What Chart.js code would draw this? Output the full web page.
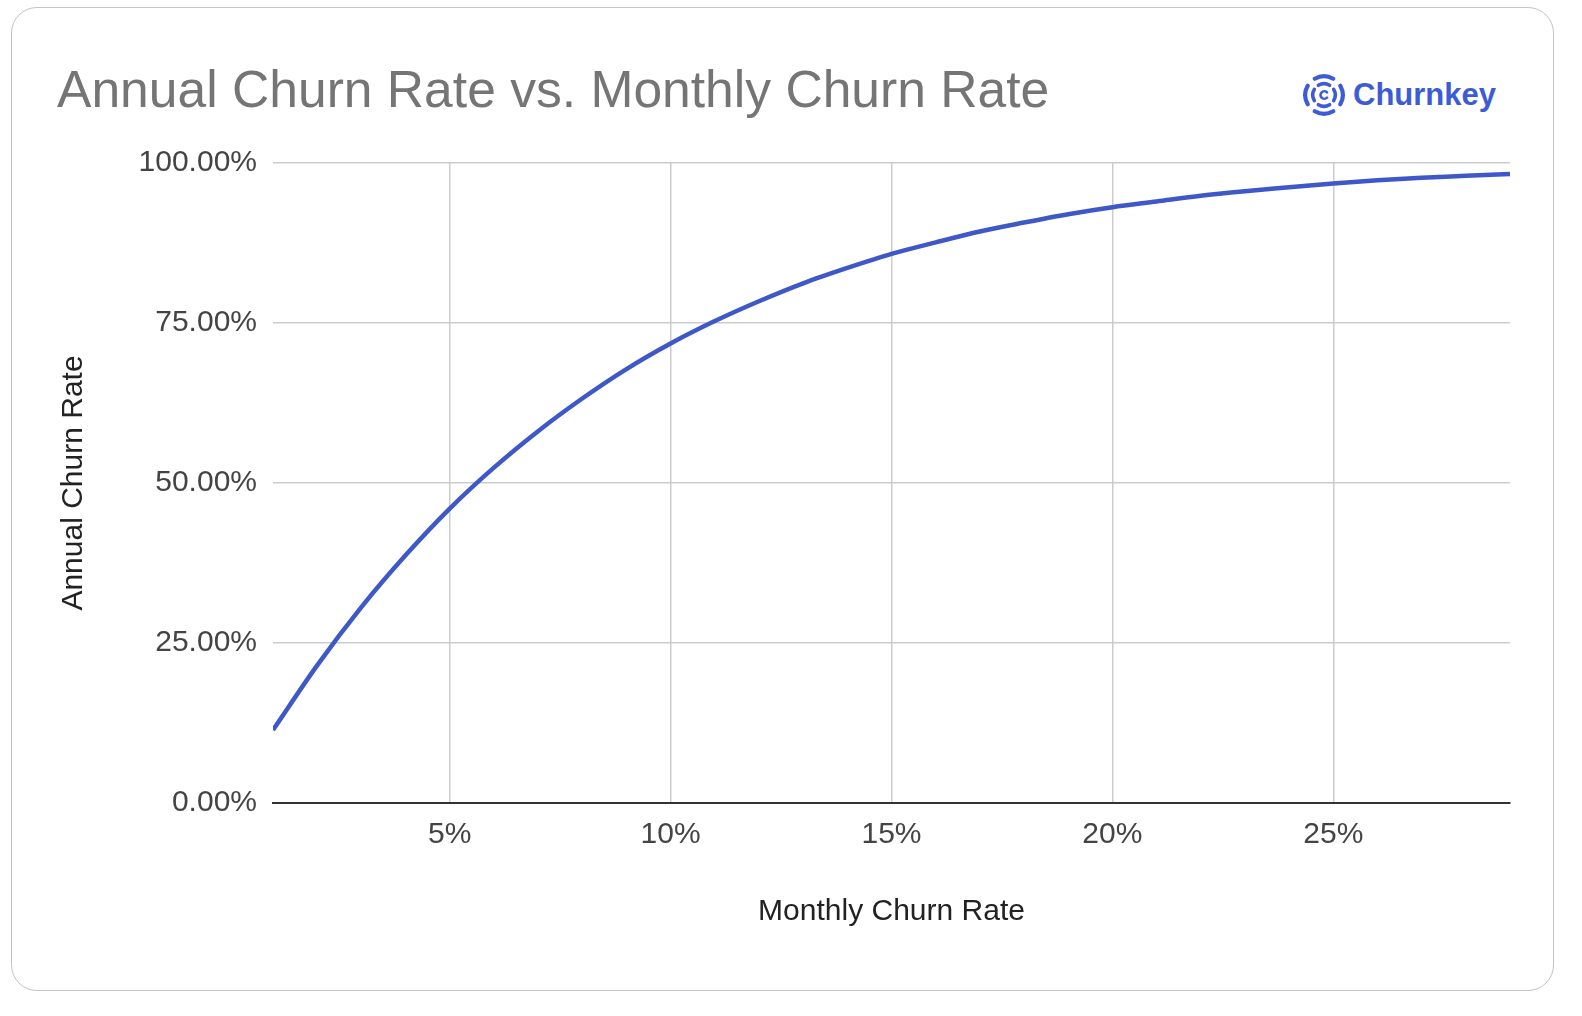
<!DOCTYPE html>
<html>
<head>
<meta charset="utf-8">
<script src="https://cdn.jsdelivr.net/npm/chart.js@4"></script>
<style>
  html, body { margin: 0; padding: 0; background: #fff; }
  body { width: 1582px; height: 1016px; position: relative; overflow: hidden; font-family: "Liberation Sans", Arial, sans-serif; }
  .card { position: absolute; left: 11px; top: 7px; width: 1543px; height: 984px; border: 1.5px solid #c4c4c4; border-radius: 26px; box-sizing: border-box; }
  .title { position: absolute; left: 57px; top: 59px; font-size: 51.6px; color: #757575; white-space: nowrap; }
  .logo { position: absolute; left: 1302px; top: 73px; display: flex; align-items: center; }
  .logo span { font-size: 31px; font-weight: bold; color: #3d5bd6; margin-left: 7px; }
  canvas { position: absolute; left: 0; top: 0; }
</style>
</head>
<body>
<div class="card"></div>
<div class="title">Annual Churn Rate vs. Monthly Churn Rate</div>
<div class="logo">
  <svg width="44" height="44" viewBox="0 0 44 44" fill="none" stroke="#3d5bd6" stroke-linecap="round">
    <!-- два кольца по четыре дуги, разрывы по диагоналям -->
    <g stroke-width="4.2">
      <path d="M 12.8 5.7 A 18.5 18.5 0 0 1 31.2 5.7"/>
      <path d="M 38.3 12.8 A 18.5 18.5 0 0 1 38.3 31.2"/>
      <path d="M 31.2 38.3 A 18.5 18.5 0 0 1 12.8 38.3"/>
      <path d="M 5.7 31.2 A 18.5 18.5 0 0 1 5.7 12.8"/>
    </g>
    <g stroke-width="3.6">
      <path d="M 16.4 12.3 A 11 11 0 0 1 27.6 12.3"/>
      <path d="M 31.7 16.4 A 11 11 0 0 1 31.7 27.6"/>
      <path d="M 27.6 31.7 A 11 11 0 0 1 16.4 31.7"/>
      <path d="M 12.3 27.6 A 11 11 0 0 1 12.3 16.4"/>
    </g>
    <path d="M 25 19.3 A 3.8 3.8 0 1 0 25 24.7" stroke-width="2.6"/>
  </svg>
  <span>Churnkey</span>
</div>
<canvas id="chart" width="1582" height="1016"></canvas>
<script>
// месячный отток, %
const monthlyRates = [1, 2, 3, 4, 5, 6, 7, 8, 9, 10, 11, 12, 13, 14, 15,
  16, 17, 18, 19, 20, 21, 22, 23, 24, 25, 26, 27, 28, 29];
// годовой отток, %
const annualRates = [11.4, 21.5, 30.6, 38.7, 46.0, 52.4, 58.1, 63.2, 67.8, 71.8,
  75.3, 78.4, 81.2, 83.6, 85.8, 87.6, 89.3, 90.7, 92.0, 93.1,
  94.0, 94.9, 95.6, 96.2, 96.8, 97.3, 97.7, 98.0, 98.3];
const yTicks = [0, 25, 50, 75, 100];
const xTicks = [5, 10, 15, 20, 25];

const points = monthlyRates.map((m, i) => ({ x: m, y: annualRates[i] }));
const tickFont = { family: 'Liberation Sans', size: 30 };

new Chart(document.getElementById('chart').getContext('2d'), {
  type: 'line',
  data: {
    datasets: [{
      data: points,
      borderColor: '#3f58c8',
      borderWidth: 4.5,
      pointRadius: 0,
      cubicInterpolationMode: 'monotone',
      fill: false,
    }],
  },
  options: {
    responsive: false,
    animation: false,
    layout: { padding: { left: 56, top: 163, right: 72, bottom: 86 } },
    plugins: { legend: { display: false }, tooltip: { enabled: false } },
    scales: {
      x: {
        type: 'linear',
        min: 1,
        max: 29,
        afterBuildTicks: (s) => { s.ticks = xTicks.map((v) => ({ value: v })); },
        afterFit: (s) => { s.height = 127; },
        ticks: {
          font: tickFont,
          color: '#444',
          padding: 14,
          callback: (v) => v + '%',
        },
        grid: { color: '#cccccc', lineWidth: 1.5, drawTicks: false },
        border: { display: true, color: '#333', width: 2 },
        title: {
          display: true,
          text: 'Monthly Churn Rate',
          font: tickFont,
          color: '#222',
          padding: 0,
        },
      },
      y: {
        min: 0,
        max: 100,
        afterBuildTicks: (s) => { s.ticks = yTicks.map((v) => ({ value: v })); },
        afterFit: (s) => { s.width = 217; },
        ticks: {
          font: tickFont,
          color: '#444',
          padding: 16,
          callback: (v) => v.toFixed(2) + '%',
        },
        grid: { color: '#cccccc', lineWidth: 1.5, drawTicks: false },
        border: { display: false },
        title: {
          display: true,
          text: 'Annual Churn Rate',
          font: tickFont,
          color: '#222',
          padding: 0,
        },
      },
    },
  },
});
</script>
</body>
</html>
